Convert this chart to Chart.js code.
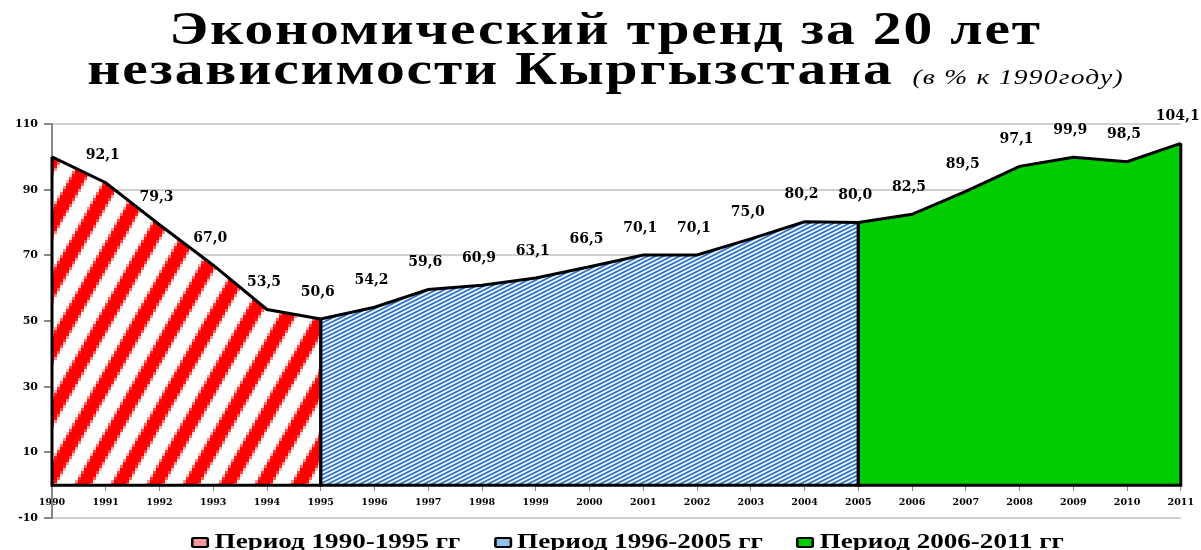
<!DOCTYPE html>
<html>
<head>
<meta charset="utf-8">
<script src="https://cdn.jsdelivr.net/npm/chart.js@4"></script>
<style>
  body { margin: 0; background: #fff; }
  #wrap { position: relative; width: 1201px; height: 550px; overflow: hidden; }
  #title {
    position: absolute; left: 5px; top: 9px; width: 1201px;
    text-align: center; font-family: "Liberation Serif", serif;
    font-weight: bold; font-size: 46px; line-height: 40px; letter-spacing: 1.5px; color: #000;
    transform: scaleX(1.25); transform-origin: 600px 0;
  }
  #title span { font-size: 22px; font-style: italic; font-weight: normal; letter-spacing: 1px; line-height: 1; margin-left: 2px; }
  #legend {
    position: absolute; left: 27px; top: 531px; width: 1201px;
    text-align: center; white-space: nowrap;
    font-family: "Liberation Serif", serif; font-weight: bold; font-size: 21px; line-height: 21px; color: #000;
    transform: scaleX(1.29); transform-origin: 600px 0;
  }
  #legend .item { display: inline-block; margin: 0 13px; }
  #legend .box {
    display: inline-block; box-sizing: border-box; width: 14px; height: 11px;
    border: 2px solid #000; border-radius: 2px; margin-right: 4px; vertical-align: baseline;
  }
</style>
</head>
<body>
<div id="wrap">
  <canvas id="chart" width="1201" height="550"></canvas>
  <div id="title">Экономический тренд за 20 лет<br>независимости Кыргызстана <span>(в % к 1990году)</span></div>
  <div id="legend"></div>
</div>
<script>
const years = ['1990', '1991', '1992', '1993', '1994', '1995', '1996', '1997', '1998', '1999', '2000',
  '2001', '2002', '2003', '2004', '2005', '2006', '2007', '2008', '2009', '2010', '2011'];
// values in % of 1990
const period1 = [100, 92.1, 79.3, 67.0, 53.5, 50.6];                               // 1990-1995
const period2 = [50.6, 54.2, 59.6, 60.9, 63.1, 66.5, 70.1, 70.1, 75.0, 80.2, 80.0]; // 1995-2005
const period3 = [80.0, 82.5, 89.5, 97.1, 99.9, 98.5, 104.1];                       // 2005-2011
const yTicks = [-10, 10, 30, 50, 70, 90, 110];
const legendNames = ['Период 1990-1995 гг', 'Период 1996-2005 гг', 'Период 2006-2011 гг'];
const legendFills = ['#f4979a', '#93c0ea', '#00cc00'];

const serif = '"Liberation Serif", "Times New Roman", serif';
const wideSerif = '"DejaVu Serif", serif';

// place a period's values on the full year axis
function spread(values, startYear) {
  const start = years.indexOf(startYear);
  return years.map((y, i) => (i >= start && i < start + values.length) ? values[i - start] : null);
}

// diagonal stripes drawn small, then blown up without smoothing (blocky like the original)
function makePattern(w, h, bg, fg, width, scale) {
  const s = document.createElement('canvas');
  s.width = w; s.height = h;
  const g = s.getContext('2d');
  g.fillStyle = bg;
  g.fillRect(0, 0, w, h);
  g.strokeStyle = fg;
  g.lineWidth = width;
  for (let k = -2; k <= 1; k++) {
    g.beginPath();
    g.moveTo(k * w, 2 * h);
    g.lineTo(k * w + 3 * w, -h);
    g.stroke();
  }
  const c = document.createElement('canvas');
  c.width = w * scale; c.height = h * scale;
  const g2 = c.getContext('2d');
  g2.imageSmoothingEnabled = false;
  g2.drawImage(s, 0, 0, c.width, c.height);
  return g2.createPattern(c, 'repeat');
}

const redStripes = makePattern(12, 21, '#ffffff', '#ff0000', 4.8, 3);
const blueHatch = makePattern(8, 4, '#f3f8fd', '#2a73c8', 1.7, 1);

// black outline down the sides and along the bottom of each area
const outlinePlugin = {
  id: 'outline',
  afterDatasetsDraw(chart) {
    const ctx = chart.ctx;
    const y0 = chart.scales.y.getPixelForValue(0);
    ctx.save();
    ctx.strokeStyle = '#000';
    ctx.lineWidth = 3;
    chart.data.datasets.forEach((ds, di) => {
      const meta = chart.getDatasetMeta(di);
      const idx = ds.data.map((v, i) => v === null ? -1 : i).filter(i => i >= 0);
      const a = meta.data[idx[0]], b = meta.data[idx[idx.length - 1]];
      ctx.beginPath();
      ctx.moveTo(a.x, a.y);
      ctx.lineTo(a.x, y0);
      ctx.lineTo(b.x, y0);
      ctx.lineTo(b.x, b.y);
      ctx.stroke();
    });
    ctx.restore();
  }
};

// value labels above the points (first point of every period is left out)
const valueLabels = {
  id: 'valueLabels',
  afterDraw(chart) {
    const ctx = chart.ctx;
    ctx.save();
    ctx.font = 'bold 14px ' + wideSerif;
    ctx.fillStyle = '#000';
    ctx.textAlign = 'center';
    ctx.textBaseline = 'middle';
    chart.data.datasets.forEach((ds, di) => {
      const meta = chart.getDatasetMeta(di);
      let first = true;
      ds.data.forEach((v, i) => {
        if (v === null) return;
        if (first) { first = false; return; }
        const p = meta.data[i];
        ctx.fillText(v.toFixed(1).replace('.', ','), p.x - 3, p.y - 27);
      });
    });
    ctx.restore();
  }
};

new Chart(document.getElementById('chart'), {
  type: 'line',
  data: {
    labels: years,
    datasets: [
      { label: legendNames[0], data: spread(period1, '1990'), backgroundColor: redStripes },
      { label: legendNames[1], data: spread(period2, '1995'), backgroundColor: blueHatch },
      { label: legendNames[2], data: spread(period3, '2005'), backgroundColor: '#00cc00' }
    ].map(d => Object.assign(d, {
      fill: 'origin', borderColor: '#000', borderWidth: 3, pointRadius: 0,
      tension: 0, clip: false, spanGaps: false
    }))
  },
  options: {
    responsive: false,
    animation: false,
    layout: { padding: { top: 124, left: 5, right: 16, bottom: 32 } },
    scales: {
      x: {
        type: 'category',
        position: { y: 0 },
        offset: false,
        grid: { drawOnChartArea: false, color: '#888', tickLength: 5 },
        border: { color: '#888', width: 1 },
        ticks: { color: '#000', font: { family: wideSerif, weight: 'bold', size: 9.5 }, padding: 7, maxRotation: 0, autoSkip: false }
      },
      y: {
        min: -10,
        max: 110,
        afterBuildTicks(scale) { scale.ticks = yTicks.map(v => ({ value: v })); },
        afterFit(scale) { scale.width = 47; },
        grid: { color: '#d0d0d0', lineWidth: 2, tickLength: 8, tickColor: '#888' },
        border: { color: '#888', width: 2 },
        ticks: { color: '#000', font: { family: wideSerif, weight: 'bold', size: 11 }, padding: 6 }
      }
    },
    plugins: {
      filler: { drawTime: 'beforeDatasetsDraw' },
      tooltip: { enabled: false },
      legend: { display: false }
    }
  },
  plugins: [outlinePlugin, valueLabels]
});

// legend under the chart
const legend = document.getElementById('legend');
legendNames.forEach((name, i) => {
  const item = document.createElement('span');
  item.className = 'item';
  const box = document.createElement('span');
  box.className = 'box';
  box.style.background = legendFills[i];
  item.appendChild(box);
  item.appendChild(document.createTextNode(name));
  legend.appendChild(item);
});
</script>
</body>
</html>
